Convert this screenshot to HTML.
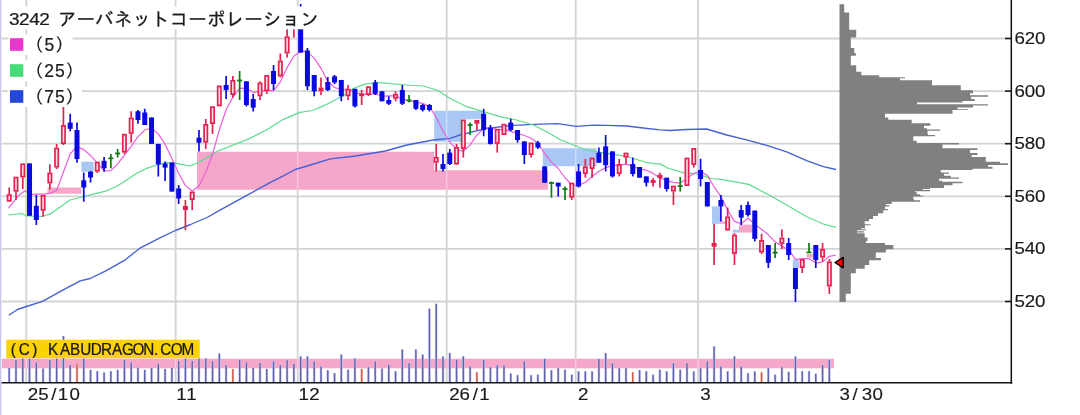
<!DOCTYPE html><html lang="ja"><head><meta charset="utf-8"><title>3242 アーバネットコーポレーション</title>
<style>html,body{margin:0;padding:0;background:#fff;}body{width:1080px;height:415px;overflow:hidden;}svg{display:block;filter:blur(0.5px);}text{font-family:"Liberation Sans","IPAGothic",sans-serif;fill:#1a1a1a;}.mono{font-family:"Liberation Mono","IPAGothic",monospace;}</style></head><body>
<svg width="1080" height="415" viewBox="0 0 1080 415">
<rect width="1080" height="415" fill="#fff"/>
<rect x="0" y="0" width="1.3" height="415" fill="#c6c6f0"/>
<g id="grid" stroke="#d2d3d3" stroke-width="1.8" fill="none">
<line x1="1.6" y1="38.5" x2="1011" y2="38.5"/>
<line x1="1.6" y1="91.1" x2="1011" y2="91.1"/>
<line x1="1.6" y1="143.7" x2="1011" y2="143.7"/>
<line x1="1.6" y1="196.3" x2="1011" y2="196.3"/>
<line x1="1.6" y1="248.9" x2="1011" y2="248.9"/>
<line x1="1.6" y1="301.5" x2="1011" y2="301.5"/>
<line x1="26.3" y1="0" x2="26.3" y2="383"/>
<line x1="175.6" y1="0" x2="175.6" y2="383"/>
<line x1="297.7" y1="0" x2="297.7" y2="383"/>
<line x1="446.7" y1="0" x2="446.7" y2="383"/>
<line x1="575.7" y1="0" x2="575.7" y2="383"/>
<line x1="698" y1="0" x2="698" y2="383"/>
</g>
<g id="bands">
<rect x="47.5" y="187.5" width="33.8" height="6.2" fill="#f5a6c9"/>
<rect x="81.3" y="161.7" width="12.4" height="10" fill="#aac8f6"/>
<rect x="542.8" y="148.2" width="53.8" height="18" fill="#aac8f6"/>
<rect x="712" y="206.4" width="8" height="17.4" fill="#aac8f6"/>
<rect x="720" y="221.4" width="7" height="2.4" fill="#f5a6c9"/>
<rect x="732.7" y="229.8" width="6.3" height="2.8" fill="#aac8f6"/>
<rect x="739" y="224.6" width="13.7" height="8" fill="#f5a6c9"/>
<rect x="792.8" y="259.5" width="6.2" height="8.5" fill="#aac8f6"/>
<rect x="806.6" y="254" width="6.3" height="3.6" fill="#f5a6c9"/>
<path d="M197 151.7H434.2V170.2H548V189.8H197Z" fill="#f5a6c9"/>
<path d="M434.2 110.8H482.6V119.2H461V141.7H434.2Z" fill="#aac8f6"/>
</g>
<rect x="2" y="358.7" width="831.9" height="9.6" fill="#f5a6c9"/>
<g stroke="#ffffff" stroke-opacity="0.38" stroke-width="1.5">
<line x1="297.7" y1="151.7" x2="297.7" y2="189.8"/>
<line x1="446.7" y1="170.2" x2="446.7" y2="189.8"/>
<line x1="446.7" y1="110.8" x2="446.7" y2="141.7"/>
<line x1="575.7" y1="148.2" x2="575.7" y2="166.2"/>
<line x1="26.3" y1="358.7" x2="26.3" y2="368.3"/>
<line x1="175.6" y1="358.7" x2="175.6" y2="368.3"/>
<line x1="297.7" y1="358.7" x2="297.7" y2="368.3"/>
<line x1="446.7" y1="358.7" x2="446.7" y2="368.3"/>
<line x1="575.7" y1="358.7" x2="575.7" y2="368.3"/>
<line x1="698" y1="358.7" x2="698" y2="368.3"/>
</g>
<g id="profile" fill="#808080">
<path d="M839.5 4.2L844.2 4.2L844.2 12.5L849.2 12.5L849.2 29.7L856.2 29.7L856.2 37.5L850.8 37.5L850.8 48L854.2 48L854.2 53L855.8 53L855.8 55.8L850.8 55.8L850.8 65.2L856.2 65.2L856.2 71.7L861.3 71.7L861.3 75.3L879.2 75.3L879.2 77.2L905 77.2L905 78.2L900 78.2L900 80.3L932 80.3L932 85.3L960.8 85.3L960.8 90.3L973 90.3L973 93.3L970 93.3L970 95.3L988.3 95.3L988.3 96.8L971 96.8L971 99L974.7 99L974.7 101L962.5 101L962.5 102.5L917 102.5L917 104.2L988 104.2L988 105.5L973 105.5L973 107.5L957.5 107.5L957.5 109.2L967.8 109.2L967.8 110L952.5 110L952.5 113.7L885 113.7L885 117.5L888.3 117.5L888.3 119.7L911.7 119.7L911.7 123.2L930.3 123.2L930.3 125.8L924 125.8L924 128.3L927 128.3L927 129.6L940.3 129.6L940.3 130.8L927.5 130.8L927.5 134L928 134L928 135L935 135L935 136.3L913.3 136.3L913.3 140.8L916.7 140.8L916.7 143L959 143L959 144.4L942.5 144.4L942.5 148.3L977.5 148.3L977.5 150L970 150L970 153L977.5 153L977.5 155L971.7 155L971.7 157L985.8 157L985.8 161.7L1000 161.7L1000 163.3L1008 163.3L1008 165L988 165L988 166.7L992.5 166.7L992.5 168.7L972.5 168.7L972.5 170L940.8 170L940.8 172.5L949 172.5L949 173.7L944 173.7L944 175.8L950.8 175.8L950.8 177.5L959 177.5L959 178.7L939 178.7L939 180.8L942 180.8L942 181.8L962.5 181.8L962.5 183.3L952.5 183.3L952.5 185.3L944 185.3L944 188L930 188L930 189L923 189L923 190L930 190L930 191.2L915 191.2L915 192L916.7 192L916.7 194.2L920 194.2L920 195.5L923 195.5L923 196.5L913.3 196.5L913.3 199L914 199L914 200.3L920 200.3L920 201.7L891.7 201.7L891.7 204L886 204L886 205.3L889.5 205.3L889.5 206.5L885 206.5L885 209L888 209L888 210.3L883.3 210.3L883.3 213.3L878 213.3L878 216L873 216L873 219L869 219L869 221.3L864.7 221.3L864.7 224.2L870.5 224.2L870.5 225.3L865 225.3L865 228.3L861 228.3L861 229.3L866 229.3L866 230.3L857 230.3L857 231.3L864 231.3L864 232.6L857 232.6L857 233.3L864.7 233.3L864.7 237.5L867.5 237.5L867.5 241L866 241L866 243L885 243L885 245L893.3 245L893.3 249.2L885.8 249.2L885.8 252.5L875.8 252.5L875.8 258L881 258L881 260.3L869.2 260.3L869.2 265L864.7 265L864.7 268.7L855.8 268.7L855.8 273.3L850.8 273.3L850.8 293.7L845.8 293.7L845.8 302L839.5 302Z"/>
</g>
<g id="volume">
<line x1="9.2" y1="367.8" x2="9.2" y2="383" stroke="#ccccff" stroke-width="2.6"/>
<line x1="15.98" y1="359.6" x2="15.98" y2="383" stroke="#ccccff" stroke-width="2.6"/>
<line x1="22.76" y1="358.3" x2="22.76" y2="383" stroke="#ccccff" stroke-width="2.6"/>
<line x1="29.53" y1="358.3" x2="29.53" y2="383" stroke="#ccccff" stroke-width="2.6"/>
<line x1="36.31" y1="362.1" x2="36.31" y2="383" stroke="#ccccff" stroke-width="2.6"/>
<line x1="43.09" y1="368.3" x2="43.09" y2="383" stroke="#ccccff" stroke-width="2.6"/>
<line x1="49.87" y1="359.6" x2="49.87" y2="383" stroke="#ccccff" stroke-width="2.6"/>
<line x1="56.65" y1="358.3" x2="56.65" y2="383" stroke="#ccccff" stroke-width="2.6"/>
<line x1="63.42" y1="335.8" x2="63.42" y2="383" stroke="#ccccff" stroke-width="2.6"/>
<line x1="70.2" y1="364.6" x2="70.2" y2="383" stroke="#ccccff" stroke-width="2.6"/>
<line x1="76.98" y1="363.3" x2="76.98" y2="383" stroke="#ffd2c6" stroke-width="2.6"/>
<line x1="83.76" y1="358.3" x2="83.76" y2="383" stroke="#ccccff" stroke-width="2.6"/>
<line x1="90.54" y1="369.6" x2="90.54" y2="383" stroke="#ccccff" stroke-width="2.6"/>
<line x1="97.31" y1="370.9" x2="97.31" y2="383" stroke="#ccccff" stroke-width="2.6"/>
<line x1="104.09" y1="372.1" x2="104.09" y2="383" stroke="#ccccff" stroke-width="2.6"/>
<line x1="110.87" y1="370.9" x2="110.87" y2="383" stroke="#ccccff" stroke-width="2.6"/>
<line x1="117.65" y1="369.6" x2="117.65" y2="383" stroke="#ccccff" stroke-width="2.6"/>
<line x1="124.43" y1="359.6" x2="124.43" y2="383" stroke="#ccccff" stroke-width="2.6"/>
<line x1="131.2" y1="362.1" x2="131.2" y2="383" stroke="#ccccff" stroke-width="2.6"/>
<line x1="137.98" y1="367.1" x2="137.98" y2="383" stroke="#ccccff" stroke-width="2.6"/>
<line x1="144.76" y1="369.6" x2="144.76" y2="383" stroke="#ccccff" stroke-width="2.6"/>
<line x1="151.54" y1="367.8" x2="151.54" y2="383" stroke="#ccccff" stroke-width="2.6"/>
<line x1="158.32" y1="363.3" x2="158.32" y2="383" stroke="#ccccff" stroke-width="2.6"/>
<line x1="165.09" y1="368.8" x2="165.09" y2="383" stroke="#ccccff" stroke-width="2.6"/>
<line x1="171.87" y1="367.8" x2="171.87" y2="383" stroke="#ccccff" stroke-width="2.6"/>
<line x1="178.65" y1="360.8" x2="178.65" y2="383" stroke="#ccccff" stroke-width="2.6"/>
<line x1="185.43" y1="358.3" x2="185.43" y2="383" stroke="#ccccff" stroke-width="2.6"/>
<line x1="192.21" y1="360.8" x2="192.21" y2="383" stroke="#ccccff" stroke-width="2.6"/>
<line x1="198.98" y1="358.3" x2="198.98" y2="383" stroke="#ccccff" stroke-width="2.6"/>
<line x1="205.76" y1="358.3" x2="205.76" y2="383" stroke="#ccccff" stroke-width="2.6"/>
<line x1="212.54" y1="360.8" x2="212.54" y2="383" stroke="#ccccff" stroke-width="2.6"/>
<line x1="219.32" y1="353.3" x2="219.32" y2="383" stroke="#ccccff" stroke-width="2.6"/>
<line x1="226.1" y1="364.6" x2="226.1" y2="383" stroke="#ccccff" stroke-width="2.6"/>
<line x1="232.87" y1="368.8" x2="232.87" y2="383" stroke="#ffd2c6" stroke-width="2.6"/>
<line x1="239.65" y1="359.6" x2="239.65" y2="383" stroke="#ccccff" stroke-width="2.6"/>
<line x1="246.43" y1="362.1" x2="246.43" y2="383" stroke="#ccccff" stroke-width="2.6"/>
<line x1="253.21" y1="367.8" x2="253.21" y2="383" stroke="#ccccff" stroke-width="2.6"/>
<line x1="259.99" y1="362.7" x2="259.99" y2="383" stroke="#ccccff" stroke-width="2.6"/>
<line x1="266.76" y1="368.7" x2="266.76" y2="383" stroke="#ccccff" stroke-width="2.6"/>
<line x1="273.54" y1="361.1" x2="273.54" y2="383" stroke="#ccccff" stroke-width="2.6"/>
<line x1="280.32" y1="364.9" x2="280.32" y2="383" stroke="#ccccff" stroke-width="2.6"/>
<line x1="287.1" y1="359.9" x2="287.1" y2="383" stroke="#ccccff" stroke-width="2.6"/>
<line x1="293.88" y1="363.6" x2="293.88" y2="383" stroke="#ccccff" stroke-width="2.6"/>
<line x1="300.65" y1="356.1" x2="300.65" y2="383" stroke="#ccccff" stroke-width="2.6"/>
<line x1="307.43" y1="356.1" x2="307.43" y2="383" stroke="#ccccff" stroke-width="2.6"/>
<line x1="314.21" y1="361.1" x2="314.21" y2="383" stroke="#ccccff" stroke-width="2.6"/>
<line x1="320.99" y1="366.1" x2="320.99" y2="383" stroke="#ccccff" stroke-width="2.6"/>
<line x1="327.77" y1="369.9" x2="327.77" y2="383" stroke="#ccccff" stroke-width="2.6"/>
<line x1="334.54" y1="372.9" x2="334.54" y2="383" stroke="#ccccff" stroke-width="2.6"/>
<line x1="341.32" y1="354.3" x2="341.32" y2="383" stroke="#ccccff" stroke-width="2.6"/>
<line x1="348.1" y1="369.4" x2="348.1" y2="383" stroke="#ccccff" stroke-width="2.6"/>
<line x1="354.88" y1="358.1" x2="354.88" y2="383" stroke="#ccccff" stroke-width="2.6"/>
<line x1="361.66" y1="368.6" x2="361.66" y2="383" stroke="#ffd2c6" stroke-width="2.6"/>
<line x1="368.43" y1="366.9" x2="368.43" y2="383" stroke="#ccccff" stroke-width="2.6"/>
<line x1="375.21" y1="361.1" x2="375.21" y2="383" stroke="#ccccff" stroke-width="2.6"/>
<line x1="381.99" y1="368.1" x2="381.99" y2="383" stroke="#ccccff" stroke-width="2.6"/>
<line x1="388.77" y1="364.4" x2="388.77" y2="383" stroke="#ccccff" stroke-width="2.6"/>
<line x1="395.55" y1="371.1" x2="395.55" y2="383" stroke="#ccccff" stroke-width="2.6"/>
<line x1="402.32" y1="349.3" x2="402.32" y2="383" stroke="#ccccff" stroke-width="2.6"/>
<line x1="409.1" y1="362.9" x2="409.1" y2="383" stroke="#ccccff" stroke-width="2.6"/>
<line x1="415.88" y1="349.3" x2="415.88" y2="383" stroke="#ccccff" stroke-width="2.6"/>
<line x1="422.66" y1="354.3" x2="422.66" y2="383" stroke="#ccccff" stroke-width="2.6"/>
<line x1="429.44" y1="308.5" x2="429.44" y2="383" stroke="#ccccff" stroke-width="2.6"/>
<line x1="436.21" y1="303.5" x2="436.21" y2="383" stroke="#ccccff" stroke-width="2.6"/>
<line x1="442.99" y1="356.1" x2="442.99" y2="383" stroke="#ccccff" stroke-width="2.6"/>
<line x1="449.77" y1="352.8" x2="449.77" y2="383" stroke="#ccccff" stroke-width="2.6"/>
<line x1="456.55" y1="359.4" x2="456.55" y2="383" stroke="#ccccff" stroke-width="2.6"/>
<line x1="463.33" y1="356.1" x2="463.33" y2="383" stroke="#ccccff" stroke-width="2.6"/>
<line x1="470.1" y1="366.1" x2="470.1" y2="383" stroke="#ccccff" stroke-width="2.6"/>
<line x1="476.88" y1="371.9" x2="476.88" y2="383" stroke="#ffd2c6" stroke-width="2.6"/>
<line x1="483.66" y1="359.9" x2="483.66" y2="383" stroke="#ccccff" stroke-width="2.6"/>
<line x1="490.44" y1="366.9" x2="490.44" y2="383" stroke="#ccccff" stroke-width="2.6"/>
<line x1="497.22" y1="364.9" x2="497.22" y2="383" stroke="#ccccff" stroke-width="2.6"/>
<line x1="503.99" y1="364.9" x2="503.99" y2="383" stroke="#ccccff" stroke-width="2.6"/>
<line x1="510.77" y1="373.1" x2="510.77" y2="383" stroke="#ccccff" stroke-width="2.6"/>
<line x1="517.55" y1="374.9" x2="517.55" y2="383" stroke="#ccccff" stroke-width="2.6"/>
<line x1="524.33" y1="361.1" x2="524.33" y2="383" stroke="#ccccff" stroke-width="2.6"/>
<line x1="531.11" y1="374.9" x2="531.11" y2="383" stroke="#ccccff" stroke-width="2.6"/>
<line x1="537.88" y1="374.4" x2="537.88" y2="383" stroke="#ccccff" stroke-width="2.6"/>
<line x1="544.66" y1="358.6" x2="544.66" y2="383" stroke="#ccccff" stroke-width="2.6"/>
<line x1="551.44" y1="369.9" x2="551.44" y2="383" stroke="#ccccff" stroke-width="2.6"/>
<line x1="558.22" y1="367.9" x2="558.22" y2="383" stroke="#ccccff" stroke-width="2.6"/>
<line x1="565" y1="369.4" x2="565" y2="383" stroke="#ccccff" stroke-width="2.6"/>
<line x1="571.77" y1="374.4" x2="571.77" y2="383" stroke="#ccccff" stroke-width="2.6"/>
<line x1="578.55" y1="371.1" x2="578.55" y2="383" stroke="#ccccff" stroke-width="2.6"/>
<line x1="585.33" y1="371.1" x2="585.33" y2="383" stroke="#ccccff" stroke-width="2.6"/>
<line x1="592.11" y1="371.1" x2="592.11" y2="383" stroke="#ccccff" stroke-width="2.6"/>
<line x1="598.89" y1="358.6" x2="598.89" y2="383" stroke="#ccccff" stroke-width="2.6"/>
<line x1="605.66" y1="352.8" x2="605.66" y2="383" stroke="#ccccff" stroke-width="2.6"/>
<line x1="612.44" y1="362.9" x2="612.44" y2="383" stroke="#ccccff" stroke-width="2.6"/>
<line x1="619.22" y1="367.9" x2="619.22" y2="383" stroke="#ccccff" stroke-width="2.6"/>
<line x1="626" y1="367.9" x2="626" y2="383" stroke="#ccccff" stroke-width="2.6"/>
<line x1="632.78" y1="371.9" x2="632.78" y2="383" stroke="#ffd2c6" stroke-width="2.6"/>
<line x1="639.55" y1="369.9" x2="639.55" y2="383" stroke="#ccccff" stroke-width="2.6"/>
<line x1="646.33" y1="371.1" x2="646.33" y2="383" stroke="#ccccff" stroke-width="2.6"/>
<line x1="653.11" y1="374.4" x2="653.11" y2="383" stroke="#ccccff" stroke-width="2.6"/>
<line x1="659.89" y1="369.4" x2="659.89" y2="383" stroke="#ccccff" stroke-width="2.6"/>
<line x1="666.67" y1="371.1" x2="666.67" y2="383" stroke="#ccccff" stroke-width="2.6"/>
<line x1="673.44" y1="362.9" x2="673.44" y2="383" stroke="#ccccff" stroke-width="2.6"/>
<line x1="680.22" y1="369.4" x2="680.22" y2="383" stroke="#ccccff" stroke-width="2.6"/>
<line x1="687" y1="362.9" x2="687" y2="383" stroke="#ccccff" stroke-width="2.6"/>
<line x1="693.78" y1="371.1" x2="693.78" y2="383" stroke="#ccccff" stroke-width="2.6"/>
<line x1="700.56" y1="367.9" x2="700.56" y2="383" stroke="#ccccff" stroke-width="2.6"/>
<line x1="707.33" y1="361.1" x2="707.33" y2="383" stroke="#ccccff" stroke-width="2.6"/>
<line x1="714.11" y1="346.1" x2="714.11" y2="383" stroke="#ccccff" stroke-width="2.6"/>
<line x1="720.89" y1="366.1" x2="720.89" y2="383" stroke="#ccccff" stroke-width="2.6"/>
<line x1="727.67" y1="371.1" x2="727.67" y2="383" stroke="#ccccff" stroke-width="2.6"/>
<line x1="734.45" y1="356.1" x2="734.45" y2="383" stroke="#ccccff" stroke-width="2.6"/>
<line x1="741.22" y1="366.1" x2="741.22" y2="383" stroke="#ccccff" stroke-width="2.6"/>
<line x1="748" y1="372.9" x2="748" y2="383" stroke="#ccccff" stroke-width="2.6"/>
<line x1="754.78" y1="371.1" x2="754.78" y2="383" stroke="#ccccff" stroke-width="2.6"/>
<line x1="761.56" y1="371.9" x2="761.56" y2="383" stroke="#ffd2c6" stroke-width="2.6"/>
<line x1="768.34" y1="367.9" x2="768.34" y2="383" stroke="#ccccff" stroke-width="2.6"/>
<line x1="775.11" y1="374.4" x2="775.11" y2="383" stroke="#ccccff" stroke-width="2.6"/>
<line x1="781.89" y1="366.9" x2="781.89" y2="383" stroke="#ccccff" stroke-width="2.6"/>
<line x1="788.67" y1="371.6" x2="788.67" y2="383" stroke="#ccccff" stroke-width="2.6"/>
<line x1="795.45" y1="356.3" x2="795.45" y2="383" stroke="#ccccff" stroke-width="2.6"/>
<line x1="802.23" y1="370.9" x2="802.23" y2="383" stroke="#ccccff" stroke-width="2.6"/>
<line x1="809" y1="370.9" x2="809" y2="383" stroke="#ccccff" stroke-width="2.6"/>
<line x1="815.78" y1="373.4" x2="815.78" y2="383" stroke="#ccccff" stroke-width="2.6"/>
<line x1="822.56" y1="364.6" x2="822.56" y2="383" stroke="#ccccff" stroke-width="2.6"/>
<line x1="829.34" y1="359.6" x2="829.34" y2="383" stroke="#ccccff" stroke-width="2.6"/>
<line x1="9.2" y1="368.1" x2="9.2" y2="383" stroke="#6262a6" stroke-width="1.45"/>
<line x1="15.98" y1="359.9" x2="15.98" y2="383" stroke="#6262a6" stroke-width="1.45"/>
<line x1="22.76" y1="358.6" x2="22.76" y2="383" stroke="#6262a6" stroke-width="1.45"/>
<line x1="29.53" y1="358.6" x2="29.53" y2="383" stroke="#6262a6" stroke-width="1.45"/>
<line x1="36.31" y1="362.4" x2="36.31" y2="383" stroke="#6262a6" stroke-width="1.45"/>
<line x1="43.09" y1="368.6" x2="43.09" y2="383" stroke="#6262a6" stroke-width="1.45"/>
<line x1="49.87" y1="359.9" x2="49.87" y2="383" stroke="#6262a6" stroke-width="1.45"/>
<line x1="56.65" y1="358.6" x2="56.65" y2="383" stroke="#6262a6" stroke-width="1.45"/>
<line x1="63.42" y1="336.1" x2="63.42" y2="383" stroke="#6262a6" stroke-width="1.45"/>
<line x1="70.2" y1="364.9" x2="70.2" y2="383" stroke="#6262a6" stroke-width="1.45"/>
<line x1="76.98" y1="363.6" x2="76.98" y2="383" stroke="#c8584c" stroke-width="1.45"/>
<line x1="83.76" y1="358.6" x2="83.76" y2="383" stroke="#6262a6" stroke-width="1.45"/>
<line x1="90.54" y1="369.9" x2="90.54" y2="383" stroke="#6262a6" stroke-width="1.45"/>
<line x1="97.31" y1="371.2" x2="97.31" y2="383" stroke="#6262a6" stroke-width="1.45"/>
<line x1="104.09" y1="372.4" x2="104.09" y2="383" stroke="#6262a6" stroke-width="1.45"/>
<line x1="110.87" y1="371.2" x2="110.87" y2="383" stroke="#6262a6" stroke-width="1.45"/>
<line x1="117.65" y1="369.9" x2="117.65" y2="383" stroke="#6262a6" stroke-width="1.45"/>
<line x1="124.43" y1="359.9" x2="124.43" y2="383" stroke="#6262a6" stroke-width="1.45"/>
<line x1="131.2" y1="362.4" x2="131.2" y2="383" stroke="#6262a6" stroke-width="1.45"/>
<line x1="137.98" y1="367.4" x2="137.98" y2="383" stroke="#6262a6" stroke-width="1.45"/>
<line x1="144.76" y1="369.9" x2="144.76" y2="383" stroke="#6262a6" stroke-width="1.45"/>
<line x1="151.54" y1="368.1" x2="151.54" y2="383" stroke="#6262a6" stroke-width="1.45"/>
<line x1="158.32" y1="363.6" x2="158.32" y2="383" stroke="#6262a6" stroke-width="1.45"/>
<line x1="165.09" y1="369.1" x2="165.09" y2="383" stroke="#6262a6" stroke-width="1.45"/>
<line x1="171.87" y1="368.1" x2="171.87" y2="383" stroke="#6262a6" stroke-width="1.45"/>
<line x1="178.65" y1="361.1" x2="178.65" y2="383" stroke="#6262a6" stroke-width="1.45"/>
<line x1="185.43" y1="358.6" x2="185.43" y2="383" stroke="#6262a6" stroke-width="1.45"/>
<line x1="192.21" y1="361.1" x2="192.21" y2="383" stroke="#6262a6" stroke-width="1.45"/>
<line x1="198.98" y1="358.6" x2="198.98" y2="383" stroke="#6262a6" stroke-width="1.45"/>
<line x1="205.76" y1="358.6" x2="205.76" y2="383" stroke="#6262a6" stroke-width="1.45"/>
<line x1="212.54" y1="361.1" x2="212.54" y2="383" stroke="#6262a6" stroke-width="1.45"/>
<line x1="219.32" y1="353.6" x2="219.32" y2="383" stroke="#6262a6" stroke-width="1.45"/>
<line x1="226.1" y1="364.9" x2="226.1" y2="383" stroke="#6262a6" stroke-width="1.45"/>
<line x1="232.87" y1="369.1" x2="232.87" y2="383" stroke="#c8584c" stroke-width="1.45"/>
<line x1="239.65" y1="359.9" x2="239.65" y2="383" stroke="#6262a6" stroke-width="1.45"/>
<line x1="246.43" y1="362.4" x2="246.43" y2="383" stroke="#6262a6" stroke-width="1.45"/>
<line x1="253.21" y1="368.1" x2="253.21" y2="383" stroke="#6262a6" stroke-width="1.45"/>
<line x1="259.99" y1="363" x2="259.99" y2="383" stroke="#6262a6" stroke-width="1.45"/>
<line x1="266.76" y1="369" x2="266.76" y2="383" stroke="#6262a6" stroke-width="1.45"/>
<line x1="273.54" y1="361.4" x2="273.54" y2="383" stroke="#6262a6" stroke-width="1.45"/>
<line x1="280.32" y1="365.2" x2="280.32" y2="383" stroke="#6262a6" stroke-width="1.45"/>
<line x1="287.1" y1="360.2" x2="287.1" y2="383" stroke="#6262a6" stroke-width="1.45"/>
<line x1="293.88" y1="363.9" x2="293.88" y2="383" stroke="#6262a6" stroke-width="1.45"/>
<line x1="300.65" y1="356.4" x2="300.65" y2="383" stroke="#6262a6" stroke-width="1.45"/>
<line x1="307.43" y1="356.4" x2="307.43" y2="383" stroke="#6262a6" stroke-width="1.45"/>
<line x1="314.21" y1="361.4" x2="314.21" y2="383" stroke="#6262a6" stroke-width="1.45"/>
<line x1="320.99" y1="366.4" x2="320.99" y2="383" stroke="#6262a6" stroke-width="1.45"/>
<line x1="327.77" y1="370.2" x2="327.77" y2="383" stroke="#6262a6" stroke-width="1.45"/>
<line x1="334.54" y1="373.2" x2="334.54" y2="383" stroke="#6262a6" stroke-width="1.45"/>
<line x1="341.32" y1="354.6" x2="341.32" y2="383" stroke="#6262a6" stroke-width="1.45"/>
<line x1="348.1" y1="369.7" x2="348.1" y2="383" stroke="#6262a6" stroke-width="1.45"/>
<line x1="354.88" y1="358.4" x2="354.88" y2="383" stroke="#6262a6" stroke-width="1.45"/>
<line x1="361.66" y1="368.9" x2="361.66" y2="383" stroke="#c8584c" stroke-width="1.45"/>
<line x1="368.43" y1="367.2" x2="368.43" y2="383" stroke="#6262a6" stroke-width="1.45"/>
<line x1="375.21" y1="361.4" x2="375.21" y2="383" stroke="#6262a6" stroke-width="1.45"/>
<line x1="381.99" y1="368.4" x2="381.99" y2="383" stroke="#6262a6" stroke-width="1.45"/>
<line x1="388.77" y1="364.7" x2="388.77" y2="383" stroke="#6262a6" stroke-width="1.45"/>
<line x1="395.55" y1="371.4" x2="395.55" y2="383" stroke="#6262a6" stroke-width="1.45"/>
<line x1="402.32" y1="349.6" x2="402.32" y2="383" stroke="#6262a6" stroke-width="1.45"/>
<line x1="409.1" y1="363.2" x2="409.1" y2="383" stroke="#6262a6" stroke-width="1.45"/>
<line x1="415.88" y1="349.6" x2="415.88" y2="383" stroke="#6262a6" stroke-width="1.45"/>
<line x1="422.66" y1="354.6" x2="422.66" y2="383" stroke="#6262a6" stroke-width="1.45"/>
<line x1="429.44" y1="308.8" x2="429.44" y2="383" stroke="#6262a6" stroke-width="1.45"/>
<line x1="436.21" y1="303.8" x2="436.21" y2="383" stroke="#6262a6" stroke-width="1.45"/>
<line x1="442.99" y1="356.4" x2="442.99" y2="383" stroke="#6262a6" stroke-width="1.45"/>
<line x1="449.77" y1="353.1" x2="449.77" y2="383" stroke="#6262a6" stroke-width="1.45"/>
<line x1="456.55" y1="359.7" x2="456.55" y2="383" stroke="#6262a6" stroke-width="1.45"/>
<line x1="463.33" y1="356.4" x2="463.33" y2="383" stroke="#6262a6" stroke-width="1.45"/>
<line x1="470.1" y1="366.4" x2="470.1" y2="383" stroke="#6262a6" stroke-width="1.45"/>
<line x1="476.88" y1="372.2" x2="476.88" y2="383" stroke="#c8584c" stroke-width="1.45"/>
<line x1="483.66" y1="360.2" x2="483.66" y2="383" stroke="#6262a6" stroke-width="1.45"/>
<line x1="490.44" y1="367.2" x2="490.44" y2="383" stroke="#6262a6" stroke-width="1.45"/>
<line x1="497.22" y1="365.2" x2="497.22" y2="383" stroke="#6262a6" stroke-width="1.45"/>
<line x1="503.99" y1="365.2" x2="503.99" y2="383" stroke="#6262a6" stroke-width="1.45"/>
<line x1="510.77" y1="373.4" x2="510.77" y2="383" stroke="#6262a6" stroke-width="1.45"/>
<line x1="517.55" y1="375.2" x2="517.55" y2="383" stroke="#6262a6" stroke-width="1.45"/>
<line x1="524.33" y1="361.4" x2="524.33" y2="383" stroke="#6262a6" stroke-width="1.45"/>
<line x1="531.11" y1="375.2" x2="531.11" y2="383" stroke="#6262a6" stroke-width="1.45"/>
<line x1="537.88" y1="374.7" x2="537.88" y2="383" stroke="#6262a6" stroke-width="1.45"/>
<line x1="544.66" y1="358.9" x2="544.66" y2="383" stroke="#6262a6" stroke-width="1.45"/>
<line x1="551.44" y1="370.2" x2="551.44" y2="383" stroke="#6262a6" stroke-width="1.45"/>
<line x1="558.22" y1="368.2" x2="558.22" y2="383" stroke="#6262a6" stroke-width="1.45"/>
<line x1="565" y1="369.7" x2="565" y2="383" stroke="#6262a6" stroke-width="1.45"/>
<line x1="571.77" y1="374.7" x2="571.77" y2="383" stroke="#6262a6" stroke-width="1.45"/>
<line x1="578.55" y1="371.4" x2="578.55" y2="383" stroke="#6262a6" stroke-width="1.45"/>
<line x1="585.33" y1="371.4" x2="585.33" y2="383" stroke="#6262a6" stroke-width="1.45"/>
<line x1="592.11" y1="371.4" x2="592.11" y2="383" stroke="#6262a6" stroke-width="1.45"/>
<line x1="598.89" y1="358.9" x2="598.89" y2="383" stroke="#6262a6" stroke-width="1.45"/>
<line x1="605.66" y1="353.1" x2="605.66" y2="383" stroke="#6262a6" stroke-width="1.45"/>
<line x1="612.44" y1="363.2" x2="612.44" y2="383" stroke="#6262a6" stroke-width="1.45"/>
<line x1="619.22" y1="368.2" x2="619.22" y2="383" stroke="#6262a6" stroke-width="1.45"/>
<line x1="626" y1="368.2" x2="626" y2="383" stroke="#6262a6" stroke-width="1.45"/>
<line x1="632.78" y1="372.2" x2="632.78" y2="383" stroke="#c8584c" stroke-width="1.45"/>
<line x1="639.55" y1="370.2" x2="639.55" y2="383" stroke="#6262a6" stroke-width="1.45"/>
<line x1="646.33" y1="371.4" x2="646.33" y2="383" stroke="#6262a6" stroke-width="1.45"/>
<line x1="653.11" y1="374.7" x2="653.11" y2="383" stroke="#6262a6" stroke-width="1.45"/>
<line x1="659.89" y1="369.7" x2="659.89" y2="383" stroke="#6262a6" stroke-width="1.45"/>
<line x1="666.67" y1="371.4" x2="666.67" y2="383" stroke="#6262a6" stroke-width="1.45"/>
<line x1="673.44" y1="363.2" x2="673.44" y2="383" stroke="#6262a6" stroke-width="1.45"/>
<line x1="680.22" y1="369.7" x2="680.22" y2="383" stroke="#6262a6" stroke-width="1.45"/>
<line x1="687" y1="363.2" x2="687" y2="383" stroke="#6262a6" stroke-width="1.45"/>
<line x1="693.78" y1="371.4" x2="693.78" y2="383" stroke="#6262a6" stroke-width="1.45"/>
<line x1="700.56" y1="368.2" x2="700.56" y2="383" stroke="#6262a6" stroke-width="1.45"/>
<line x1="707.33" y1="361.4" x2="707.33" y2="383" stroke="#6262a6" stroke-width="1.45"/>
<line x1="714.11" y1="346.4" x2="714.11" y2="383" stroke="#6262a6" stroke-width="1.45"/>
<line x1="720.89" y1="366.4" x2="720.89" y2="383" stroke="#6262a6" stroke-width="1.45"/>
<line x1="727.67" y1="371.4" x2="727.67" y2="383" stroke="#6262a6" stroke-width="1.45"/>
<line x1="734.45" y1="356.4" x2="734.45" y2="383" stroke="#6262a6" stroke-width="1.45"/>
<line x1="741.22" y1="366.4" x2="741.22" y2="383" stroke="#6262a6" stroke-width="1.45"/>
<line x1="748" y1="373.2" x2="748" y2="383" stroke="#6262a6" stroke-width="1.45"/>
<line x1="754.78" y1="371.4" x2="754.78" y2="383" stroke="#6262a6" stroke-width="1.45"/>
<line x1="761.56" y1="372.2" x2="761.56" y2="383" stroke="#c8584c" stroke-width="1.45"/>
<line x1="768.34" y1="368.2" x2="768.34" y2="383" stroke="#6262a6" stroke-width="1.45"/>
<line x1="775.11" y1="374.7" x2="775.11" y2="383" stroke="#6262a6" stroke-width="1.45"/>
<line x1="781.89" y1="367.2" x2="781.89" y2="383" stroke="#6262a6" stroke-width="1.45"/>
<line x1="788.67" y1="371.9" x2="788.67" y2="383" stroke="#6262a6" stroke-width="1.45"/>
<line x1="795.45" y1="356.6" x2="795.45" y2="383" stroke="#6262a6" stroke-width="1.45"/>
<line x1="802.23" y1="371.2" x2="802.23" y2="383" stroke="#6262a6" stroke-width="1.45"/>
<line x1="809" y1="371.2" x2="809" y2="383" stroke="#6262a6" stroke-width="1.45"/>
<line x1="815.78" y1="373.7" x2="815.78" y2="383" stroke="#6262a6" stroke-width="1.45"/>
<line x1="822.56" y1="364.9" x2="822.56" y2="383" stroke="#6262a6" stroke-width="1.45"/>
<line x1="829.34" y1="359.9" x2="829.34" y2="383" stroke="#6262a6" stroke-width="1.45"/>
</g>
<polyline fill="none" stroke="#4660d6" stroke-width="1.35" stroke-linejoin="round" points="8.8,315.3 17.5,309.5 26.3,306.5 42.6,301.3 62.7,290.2 80.2,280.9 90.2,278.5 105.3,271.2 125.3,259.8 140.4,247.8 160.4,237.6 175.4,230.5 190.5,224.5 207,217.5 220,210.2 245,196.4 270,182.6 283.3,175.8 295.3,169.5 310.4,165 330.4,158.8 355.5,156 385.5,151 406.7,145 433.3,140 450,138.3 460,135 486.7,128.3 513.3,125.3 540,124.1 558,123.6 576,126.3 593.3,125.2 606.7,125.3 626.7,126 643.3,128 660,129.8 670,130.5 686.7,129.5 706.7,129 726.7,135 746.7,139.8 766.7,145.4 786.7,151.8 806.7,160.7 823.3,166.7 836,169.5"/>
<polyline fill="none" stroke="#5edb8e" stroke-width="1.25" stroke-linejoin="round" points="8.3,215 21.7,213.5 26.7,216 41.7,216.3 50,214.2 58.3,208.3 70,200 80,197.5 93.3,194.2 106.7,190.8 116.7,186.2 126.7,180 136.7,173.3 146.7,168.3 156.7,165 166.7,162.6 173.3,162.6 180,164.2 190,166 200,161.7 216.7,151.7 233.3,145 250,138.3 266.7,129.8 283.3,119.3 300,112.3 312.5,110.5 325,105.2 337.5,98.8 343.3,95.7 353.3,88.5 363.3,84.6 376.7,82.3 390,83.7 406.7,85 423.3,86 436.7,90 450,98.3 466.7,106.7 483.3,111.7 500,116.7 516.7,120 533.3,125 546.7,131.7 560,139.5 573.3,145 586.7,150 600,152.4 616.7,154.8 626.7,156.5 646.7,162.5 655,163.7 660,163.9 667.5,168 683.75,172.8 696.25,173.8 711.25,178.5 721.25,179.4 748.75,184.4 761.25,191 766.7,193.8 786.7,205 806.7,216.7 823.3,224 836,227.3"/>
<polyline fill="none" stroke="#e95fdc" stroke-width="1.2" stroke-linejoin="round" points="8.3,208.3 18.3,195.8 25,190.8 31.7,194.7 36.31,194.02 43.09,194.18 49.87,193.34 56.65,190.18 63.42,172.02 70.2,153.78 76.98,146.58 83.76,149.58 90.54,155.56 97.31,162.9 104.09,170.8 110.87,170.66 117.65,163.86 124.43,155.12 131.2,146.28 137.98,136.62 144.76,129.96 151.54,128.04 158.32,134.18 165.09,144.2 171.87,158.52 178.65,173.22 185.43,185.64 192.21,191.04 198.98,186.06 205.76,172.54 212.54,154.1 219.32,130 226.1,109.7 232.87,97.16 239.65,88.46 246.43,88.2 253.21,92.62 259.99,91.12 266.76,90.12 273.54,90.82 280.32,81.92 287.1,67.66 293.88,55.96 300.65,51.46 307.43,51.92 314.21,58.08 320.99,68.32 327.77,81.52 334.54,87.52 341.32,89.52 348.1,89.02 354.88,92.78 361.66,93.54 368.43,94.3 375.21,93.8 381.99,96.3 388.77,95.8 395.55,95.8 402.32,99.3 409.1,100.64 415.88,102.14 422.66,103.38 429.44,106.62 436.21,117.26 442.99,130.96 449.77,142 456.55,149.4 463.33,151.3 470.1,144.9 476.88,135.1 483.66,128.3 490.44,127.68 497.22,129.54 503.99,129.3 510.77,131.3 517.55,133.3 524.33,135.52 531.11,138.28 537.88,143.04 544.66,153.58 551.44,162.18 558.22,168.48 565,177.76 571.77,184.78 578.55,185.54 585.33,182.22 592.11,176.44 598.89,171.18 605.66,167.68 612.44,165.66 619.22,165.18 626,164.18 632.78,166.44 639.55,168.94 646.33,170.2 653.11,173.4 659.89,177.82 666.67,180.82 673.44,182.42 680.22,183.08 687,178.6 693.78,173.26 700.56,171.26 707.33,175.4 714.11,186.8 720.89,196.56 727.67,210.24 734.45,221.36 741.22,223.6 748,218 754.78,224.48 761.56,229.2 768.34,234.82 775.11,241.82 781.89,246.34 788.67,249.58 795.45,259.38 802.23,258.64 809,258.6 815.78,263.08 822.56,261.86 829.34,256.34 836,255"/>
<g id="candles">
<line x1="9.2" y1="187.5" x2="9.2" y2="194.2" stroke="#e3204f" stroke-width="1.7"/>
<line x1="9.2" y1="201.7" x2="9.2" y2="201.7" stroke="#e3204f" stroke-width="1.7"/>
<rect x="7.55" y="195.05" width="3.3" height="5.8" fill="#ffdde8" stroke="#e3204f" stroke-width="1.7"/>
<line x1="15.98" y1="176.7" x2="15.98" y2="176.7" stroke="#e3204f" stroke-width="1.7"/>
<line x1="15.98" y1="191.7" x2="15.98" y2="200" stroke="#e3204f" stroke-width="1.7"/>
<rect x="14.33" y="177.55" width="3.3" height="13.3" fill="#ffdde8" stroke="#e3204f" stroke-width="1.7"/>
<line x1="22.76" y1="163.4" x2="22.76" y2="163.4" stroke="#e3204f" stroke-width="1.7"/>
<line x1="22.76" y1="177.5" x2="22.76" y2="189" stroke="#e3204f" stroke-width="1.7"/>
<rect x="21.11" y="164.25" width="3.3" height="12.4" fill="#ffdde8" stroke="#e3204f" stroke-width="1.7"/>
<line x1="29.53" y1="163.4" x2="29.53" y2="215.8" stroke="#0a0ae0" stroke-width="1.7"/>
<rect x="27.03" y="163.4" width="5" height="52.4" fill="#0a0ae0"/>
<line x1="36.31" y1="195" x2="36.31" y2="225" stroke="#0a0ae0" stroke-width="1.7"/>
<rect x="33.81" y="205.8" width="5" height="14.2" fill="#0a0ae0"/>
<line x1="43.09" y1="195" x2="43.09" y2="195" stroke="#e3204f" stroke-width="1.7"/>
<line x1="43.09" y1="210.8" x2="43.09" y2="216.7" stroke="#e3204f" stroke-width="1.7"/>
<rect x="41.44" y="195.85" width="3.3" height="14.1" fill="#ffdde8" stroke="#e3204f" stroke-width="1.7"/>
<line x1="49.87" y1="164.2" x2="49.87" y2="172.5" stroke="#e3204f" stroke-width="1.7"/>
<line x1="49.87" y1="183.5" x2="49.87" y2="189.5" stroke="#e3204f" stroke-width="1.7"/>
<rect x="48.22" y="173.35" width="3.3" height="9.3" fill="#ffdde8" stroke="#e3204f" stroke-width="1.7"/>
<line x1="56.65" y1="144" x2="56.65" y2="147.6" stroke="#e3204f" stroke-width="1.7"/>
<line x1="56.65" y1="167.6" x2="56.65" y2="169" stroke="#e3204f" stroke-width="1.7"/>
<rect x="55" y="148.45" width="3.3" height="18.3" fill="#ffdde8" stroke="#e3204f" stroke-width="1.7"/>
<line x1="63.42" y1="106.3" x2="63.42" y2="125" stroke="#e3204f" stroke-width="1.7"/>
<line x1="63.42" y1="144" x2="63.42" y2="145" stroke="#e3204f" stroke-width="1.7"/>
<rect x="61.77" y="125.85" width="3.3" height="17.3" fill="#ffdde8" stroke="#e3204f" stroke-width="1.7"/>
<line x1="70.2" y1="113.8" x2="70.2" y2="131.3" stroke="#0a0ae0" stroke-width="1.7"/>
<rect x="67.7" y="122.6" width="5" height="6.2" fill="#0a0ae0"/>
<line x1="76.98" y1="122.6" x2="76.98" y2="162.7" stroke="#0a0ae0" stroke-width="1.7"/>
<rect x="74.48" y="130" width="5" height="29" fill="#0a0ae0"/>
<line x1="83.76" y1="172.5" x2="83.76" y2="201.7" stroke="#0a0ae0" stroke-width="1.7"/>
<rect x="81.26" y="180.3" width="5" height="7.2" fill="#0a0ae0"/>
<line x1="90.54" y1="171" x2="90.54" y2="182.5" stroke="#0a0ae0" stroke-width="1.7"/>
<rect x="88.04" y="171.7" width="5" height="5.8" fill="#0a0ae0"/>
<line x1="97.31" y1="161.7" x2="97.31" y2="161.7" stroke="#e3204f" stroke-width="1.7"/>
<line x1="97.31" y1="171.7" x2="97.31" y2="173" stroke="#e3204f" stroke-width="1.7"/>
<rect x="95.66" y="162.55" width="3.3" height="8.3" fill="#ffdde8" stroke="#e3204f" stroke-width="1.7"/>
<line x1="104.09" y1="157" x2="104.09" y2="171.7" stroke="#0a0ae0" stroke-width="1.7"/>
<rect x="101.59" y="160.8" width="5" height="7.5" fill="#0a0ae0"/>
<line x1="110.87" y1="154" x2="110.87" y2="168.3" stroke="#107a10" stroke-width="1.7"/>
<line x1="108.37" y1="158.3" x2="113.37" y2="158.3" stroke="#107a10" stroke-width="1.8"/>
<line x1="117.65" y1="149" x2="117.65" y2="157.6" stroke="#107a10" stroke-width="1.7"/>
<line x1="115.15" y1="153.5" x2="120.15" y2="153.5" stroke="#107a10" stroke-width="1.8"/>
<line x1="124.43" y1="133.8" x2="124.43" y2="133.8" stroke="#e3204f" stroke-width="1.7"/>
<line x1="124.43" y1="152.6" x2="124.43" y2="154" stroke="#e3204f" stroke-width="1.7"/>
<rect x="122.78" y="134.65" width="3.3" height="17.1" fill="#ffdde8" stroke="#e3204f" stroke-width="1.7"/>
<line x1="131.2" y1="111.3" x2="131.2" y2="117.5" stroke="#e3204f" stroke-width="1.7"/>
<line x1="131.2" y1="133.8" x2="131.2" y2="142.6" stroke="#e3204f" stroke-width="1.7"/>
<rect x="129.55" y="118.35" width="3.3" height="14.6" fill="#ffdde8" stroke="#e3204f" stroke-width="1.7"/>
<line x1="137.98" y1="110" x2="137.98" y2="123.8" stroke="#0a0ae0" stroke-width="1.7"/>
<rect x="135.48" y="111.3" width="5" height="8.7" fill="#0a0ae0"/>
<line x1="144.76" y1="108.8" x2="144.76" y2="125" stroke="#0a0ae0" stroke-width="1.7"/>
<rect x="142.26" y="112.5" width="5" height="12.5" fill="#0a0ae0"/>
<line x1="151.54" y1="117.5" x2="151.54" y2="143.9" stroke="#0a0ae0" stroke-width="1.7"/>
<rect x="149.04" y="117.5" width="5" height="26.4" fill="#0a0ae0"/>
<line x1="158.32" y1="143.9" x2="158.32" y2="176.5" stroke="#0a0ae0" stroke-width="1.7"/>
<rect x="155.82" y="143.9" width="5" height="20.6" fill="#0a0ae0"/>
<line x1="165.09" y1="161.5" x2="165.09" y2="181" stroke="#0a0ae0" stroke-width="1.7"/>
<rect x="162.59" y="163.5" width="5" height="4.1" fill="#0a0ae0"/>
<line x1="171.87" y1="162.6" x2="171.87" y2="191.6" stroke="#0a0ae0" stroke-width="1.7"/>
<rect x="169.37" y="162.6" width="5" height="29" fill="#0a0ae0"/>
<line x1="178.65" y1="185" x2="178.65" y2="204" stroke="#0a0ae0" stroke-width="1.7"/>
<rect x="176.15" y="188.5" width="5" height="10" fill="#0a0ae0"/>
<line x1="185.43" y1="200" x2="185.43" y2="206" stroke="#e3204f" stroke-width="1.7"/>
<line x1="185.43" y1="210" x2="185.43" y2="230" stroke="#e3204f" stroke-width="1.7"/>
<rect x="182.93" y="206" width="5" height="4" fill="#e3204f"/>
<line x1="192.21" y1="191.5" x2="192.21" y2="191.5" stroke="#e3204f" stroke-width="1.7"/>
<line x1="192.21" y1="200" x2="192.21" y2="210" stroke="#e3204f" stroke-width="1.7"/>
<rect x="190.56" y="192.35" width="3.3" height="6.8" fill="#ffdde8" stroke="#e3204f" stroke-width="1.7"/>
<line x1="198.98" y1="130" x2="198.98" y2="151.5" stroke="#0a0ae0" stroke-width="1.7"/>
<rect x="196.48" y="137.7" width="5" height="5" fill="#0a0ae0"/>
<line x1="205.76" y1="119" x2="205.76" y2="124" stroke="#e3204f" stroke-width="1.7"/>
<line x1="205.76" y1="142.7" x2="205.76" y2="149" stroke="#e3204f" stroke-width="1.7"/>
<rect x="204.11" y="124.85" width="3.3" height="17" fill="#ffdde8" stroke="#e3204f" stroke-width="1.7"/>
<line x1="212.54" y1="106.3" x2="212.54" y2="106.3" stroke="#e3204f" stroke-width="1.7"/>
<line x1="212.54" y1="124" x2="212.54" y2="134" stroke="#e3204f" stroke-width="1.7"/>
<rect x="210.89" y="107.15" width="3.3" height="16" fill="#ffdde8" stroke="#e3204f" stroke-width="1.7"/>
<line x1="219.32" y1="85.5" x2="219.32" y2="85.5" stroke="#e3204f" stroke-width="1.7"/>
<line x1="219.32" y1="106.3" x2="219.32" y2="106.3" stroke="#e3204f" stroke-width="1.7"/>
<rect x="217.67" y="86.35" width="3.3" height="19.1" fill="#ffdde8" stroke="#e3204f" stroke-width="1.7"/>
<line x1="226.1" y1="76" x2="226.1" y2="99" stroke="#0a0ae0" stroke-width="1.7"/>
<rect x="223.6" y="85" width="5" height="5" fill="#0a0ae0"/>
<line x1="232.87" y1="76" x2="232.87" y2="80" stroke="#e3204f" stroke-width="1.7"/>
<line x1="232.87" y1="95" x2="232.87" y2="97.6" stroke="#e3204f" stroke-width="1.7"/>
<rect x="231.22" y="80.85" width="3.3" height="13.3" fill="#ffdde8" stroke="#e3204f" stroke-width="1.7"/>
<line x1="239.65" y1="71" x2="239.65" y2="100" stroke="#107a10" stroke-width="1.7"/>
<line x1="237.15" y1="80.5" x2="242.15" y2="80.5" stroke="#107a10" stroke-width="1.8"/>
<line x1="246.43" y1="81.3" x2="246.43" y2="106.5" stroke="#0a0ae0" stroke-width="1.7"/>
<rect x="243.93" y="81.3" width="5" height="23.7" fill="#0a0ae0"/>
<line x1="253.21" y1="94" x2="253.21" y2="111.5" stroke="#0a0ae0" stroke-width="1.7"/>
<rect x="250.71" y="99" width="5" height="8.6" fill="#0a0ae0"/>
<line x1="259.99" y1="81.3" x2="259.99" y2="82.5" stroke="#e3204f" stroke-width="1.7"/>
<line x1="259.99" y1="96.3" x2="259.99" y2="100" stroke="#e3204f" stroke-width="1.7"/>
<rect x="258.34" y="83.35" width="3.3" height="12.1" fill="#ffdde8" stroke="#e3204f" stroke-width="1.7"/>
<line x1="266.76" y1="75" x2="266.76" y2="75" stroke="#e3204f" stroke-width="1.7"/>
<line x1="266.76" y1="91.3" x2="266.76" y2="94" stroke="#e3204f" stroke-width="1.7"/>
<rect x="265.11" y="75.85" width="3.3" height="14.6" fill="#ffdde8" stroke="#e3204f" stroke-width="1.7"/>
<line x1="273.54" y1="65" x2="273.54" y2="90" stroke="#0a0ae0" stroke-width="1.7"/>
<rect x="271.04" y="71" width="5" height="13" fill="#0a0ae0"/>
<line x1="280.32" y1="53.5" x2="280.32" y2="60.5" stroke="#e3204f" stroke-width="1.7"/>
<line x1="280.32" y1="76.4" x2="280.32" y2="77.5" stroke="#e3204f" stroke-width="1.7"/>
<rect x="278.67" y="61.35" width="3.3" height="14.2" fill="#ffdde8" stroke="#e3204f" stroke-width="1.7"/>
<line x1="287.1" y1="27" x2="287.1" y2="36.3" stroke="#e3204f" stroke-width="1.7"/>
<line x1="287.1" y1="53.5" x2="287.1" y2="57.5" stroke="#e3204f" stroke-width="1.7"/>
<rect x="285.45" y="37.15" width="3.3" height="15.5" fill="#ffdde8" stroke="#e3204f" stroke-width="1.7"/>
<line x1="293.88" y1="12" x2="293.88" y2="24" stroke="#e3204f" stroke-width="1.7"/>
<line x1="293.88" y1="28.5" x2="293.88" y2="37.5" stroke="#e3204f" stroke-width="1.7"/>
<rect x="292.23" y="24.85" width="3.3" height="2.8" fill="#ffdde8" stroke="#e3204f" stroke-width="1.7"/>
<line x1="300.65" y1="4" x2="300.65" y2="52.5" stroke="#0a0ae0" stroke-width="1.7"/>
<rect x="298.15" y="14" width="5" height="38.5" fill="#0a0ae0"/>
<line x1="307.43" y1="48" x2="307.43" y2="90" stroke="#0a0ae0" stroke-width="1.7"/>
<rect x="304.93" y="50.5" width="5" height="35.8" fill="#0a0ae0"/>
<line x1="314.21" y1="75" x2="314.21" y2="96.3" stroke="#0a0ae0" stroke-width="1.7"/>
<rect x="311.71" y="75" width="5" height="16.3" fill="#0a0ae0"/>
<line x1="320.99" y1="77.5" x2="320.99" y2="87.5" stroke="#e3204f" stroke-width="1.7"/>
<line x1="320.99" y1="91.3" x2="320.99" y2="95" stroke="#e3204f" stroke-width="1.7"/>
<rect x="318.49" y="87.5" width="5" height="3.8" fill="#e3204f"/>
<line x1="327.77" y1="77" x2="327.77" y2="91" stroke="#0a0ae0" stroke-width="1.7"/>
<rect x="325.27" y="82" width="5" height="8" fill="#0a0ae0"/>
<line x1="334.54" y1="75" x2="334.54" y2="84" stroke="#0a0ae0" stroke-width="1.7"/>
<rect x="332.04" y="76.3" width="5" height="6.2" fill="#0a0ae0"/>
<line x1="341.32" y1="80" x2="341.32" y2="101.3" stroke="#0a0ae0" stroke-width="1.7"/>
<rect x="338.82" y="80" width="5" height="16.3" fill="#0a0ae0"/>
<line x1="348.1" y1="85" x2="348.1" y2="88.8" stroke="#e3204f" stroke-width="1.7"/>
<line x1="348.1" y1="96.3" x2="348.1" y2="100" stroke="#e3204f" stroke-width="1.7"/>
<rect x="346.45" y="89.65" width="3.3" height="5.8" fill="#ffdde8" stroke="#e3204f" stroke-width="1.7"/>
<line x1="354.88" y1="88.8" x2="354.88" y2="107.5" stroke="#0a0ae0" stroke-width="1.7"/>
<rect x="352.38" y="88.8" width="5" height="17.5" fill="#0a0ae0"/>
<line x1="361.66" y1="90" x2="361.66" y2="93.8" stroke="#e3204f" stroke-width="1.7"/>
<line x1="361.66" y1="96.3" x2="361.66" y2="105" stroke="#e3204f" stroke-width="1.7"/>
<rect x="359.16" y="93.8" width="5" height="2.5" fill="#e3204f"/>
<line x1="368.43" y1="86" x2="368.43" y2="86.3" stroke="#e3204f" stroke-width="1.7"/>
<line x1="368.43" y1="95" x2="368.43" y2="96" stroke="#e3204f" stroke-width="1.7"/>
<rect x="366.78" y="87.15" width="3.3" height="7" fill="#ffdde8" stroke="#e3204f" stroke-width="1.7"/>
<line x1="375.21" y1="80" x2="375.21" y2="95" stroke="#0a0ae0" stroke-width="1.7"/>
<rect x="372.71" y="82.5" width="5" height="11.3" fill="#0a0ae0"/>
<line x1="381.99" y1="91.3" x2="381.99" y2="101.3" stroke="#0a0ae0" stroke-width="1.7"/>
<rect x="379.49" y="91.3" width="5" height="10" fill="#0a0ae0"/>
<line x1="388.77" y1="96.3" x2="388.77" y2="105" stroke="#0a0ae0" stroke-width="1.7"/>
<rect x="386.27" y="100" width="5" height="3.8" fill="#0a0ae0"/>
<line x1="395.55" y1="91.3" x2="395.55" y2="93.8" stroke="#e3204f" stroke-width="1.7"/>
<line x1="395.55" y1="98.8" x2="395.55" y2="101.3" stroke="#e3204f" stroke-width="1.7"/>
<rect x="393.9" y="94.65" width="3.3" height="3.3" fill="#ffdde8" stroke="#e3204f" stroke-width="1.7"/>
<line x1="402.32" y1="85" x2="402.32" y2="105" stroke="#0a0ae0" stroke-width="1.7"/>
<rect x="399.82" y="90" width="5" height="13.8" fill="#0a0ae0"/>
<line x1="409.1" y1="95" x2="409.1" y2="102.5" stroke="#107a10" stroke-width="1.7"/>
<line x1="406.6" y1="100.5" x2="411.6" y2="100.5" stroke="#107a10" stroke-width="1.8"/>
<line x1="415.88" y1="100" x2="415.88" y2="110" stroke="#0a0ae0" stroke-width="1.7"/>
<rect x="413.38" y="100" width="5" height="8.8" fill="#0a0ae0"/>
<line x1="422.66" y1="104" x2="422.66" y2="111.5" stroke="#0a0ae0" stroke-width="1.7"/>
<rect x="420.16" y="105" width="5" height="5" fill="#0a0ae0"/>
<line x1="429.44" y1="104" x2="429.44" y2="111.5" stroke="#0a0ae0" stroke-width="1.7"/>
<rect x="426.94" y="105" width="5" height="5" fill="#0a0ae0"/>
<line x1="436.21" y1="143.9" x2="436.21" y2="157" stroke="#e3204f" stroke-width="1.7"/>
<line x1="436.21" y1="162.7" x2="436.21" y2="171.4" stroke="#e3204f" stroke-width="1.7"/>
<rect x="434.56" y="157.85" width="3.3" height="4" fill="#ffdde8" stroke="#e3204f" stroke-width="1.7"/>
<line x1="442.99" y1="154" x2="442.99" y2="171.4" stroke="#0a0ae0" stroke-width="1.7"/>
<rect x="440.49" y="164" width="5" height="5" fill="#0a0ae0"/>
<line x1="449.77" y1="149" x2="449.77" y2="165" stroke="#0a0ae0" stroke-width="1.7"/>
<rect x="447.27" y="152.6" width="5" height="11.4" fill="#0a0ae0"/>
<line x1="456.55" y1="144" x2="456.55" y2="147" stroke="#e3204f" stroke-width="1.7"/>
<line x1="456.55" y1="164.4" x2="456.55" y2="165" stroke="#e3204f" stroke-width="1.7"/>
<rect x="454.9" y="147.85" width="3.3" height="15.7" fill="#ffdde8" stroke="#e3204f" stroke-width="1.7"/>
<line x1="463.33" y1="119.5" x2="463.33" y2="119.5" stroke="#e3204f" stroke-width="1.7"/>
<line x1="463.33" y1="149" x2="463.33" y2="157.6" stroke="#e3204f" stroke-width="1.7"/>
<rect x="461.68" y="120.35" width="3.3" height="27.8" fill="#ffdde8" stroke="#e3204f" stroke-width="1.7"/>
<line x1="470.1" y1="122.6" x2="470.1" y2="135" stroke="#107a10" stroke-width="1.7"/>
<line x1="467.6" y1="125" x2="472.6" y2="125" stroke="#107a10" stroke-width="1.8"/>
<line x1="476.88" y1="120" x2="476.88" y2="120" stroke="#e3204f" stroke-width="1.7"/>
<line x1="476.88" y1="123.8" x2="476.88" y2="130" stroke="#e3204f" stroke-width="1.7"/>
<rect x="474.38" y="120" width="5" height="3.8" fill="#e3204f"/>
<line x1="483.66" y1="108.8" x2="483.66" y2="136.3" stroke="#0a0ae0" stroke-width="1.7"/>
<rect x="481.16" y="113.8" width="5" height="16.2" fill="#0a0ae0"/>
<line x1="490.44" y1="125" x2="490.44" y2="144.5" stroke="#0a0ae0" stroke-width="1.7"/>
<rect x="487.94" y="127.6" width="5" height="16.3" fill="#0a0ae0"/>
<line x1="497.22" y1="128.8" x2="497.22" y2="128.8" stroke="#e3204f" stroke-width="1.7"/>
<line x1="497.22" y1="143.9" x2="497.22" y2="152.6" stroke="#e3204f" stroke-width="1.7"/>
<rect x="495.57" y="129.65" width="3.3" height="13.4" fill="#ffdde8" stroke="#e3204f" stroke-width="1.7"/>
<line x1="503.99" y1="123.8" x2="503.99" y2="123.8" stroke="#e3204f" stroke-width="1.7"/>
<line x1="503.99" y1="135" x2="503.99" y2="135" stroke="#e3204f" stroke-width="1.7"/>
<rect x="502.34" y="124.65" width="3.3" height="9.5" fill="#ffdde8" stroke="#e3204f" stroke-width="1.7"/>
<line x1="510.77" y1="118.8" x2="510.77" y2="131" stroke="#0a0ae0" stroke-width="1.7"/>
<rect x="508.27" y="122.6" width="5" height="7.4" fill="#0a0ae0"/>
<line x1="517.55" y1="130" x2="517.55" y2="142.6" stroke="#0a0ae0" stroke-width="1.7"/>
<rect x="515.05" y="130" width="5" height="10" fill="#0a0ae0"/>
<line x1="524.33" y1="141.4" x2="524.33" y2="164" stroke="#0a0ae0" stroke-width="1.7"/>
<rect x="521.83" y="141.4" width="5" height="13.6" fill="#0a0ae0"/>
<line x1="531.11" y1="142.6" x2="531.11" y2="142.6" stroke="#e3204f" stroke-width="1.7"/>
<line x1="531.11" y1="155" x2="531.11" y2="157.6" stroke="#e3204f" stroke-width="1.7"/>
<rect x="529.46" y="143.45" width="3.3" height="10.7" fill="#ffdde8" stroke="#e3204f" stroke-width="1.7"/>
<line x1="537.88" y1="141" x2="537.88" y2="149" stroke="#0a0ae0" stroke-width="1.7"/>
<rect x="535.38" y="142.6" width="5" height="5" fill="#0a0ae0"/>
<line x1="544.66" y1="166.4" x2="544.66" y2="182.7" stroke="#0a0ae0" stroke-width="1.7"/>
<rect x="542.16" y="166.4" width="5" height="16.3" fill="#0a0ae0"/>
<line x1="551.44" y1="181.5" x2="551.44" y2="197.7" stroke="#107a10" stroke-width="1.7"/>
<line x1="548.94" y1="183" x2="553.94" y2="183" stroke="#107a10" stroke-width="1.8"/>
<line x1="558.22" y1="182.7" x2="558.22" y2="196.5" stroke="#0a0ae0" stroke-width="1.7"/>
<rect x="555.72" y="182.7" width="5" height="3.8" fill="#0a0ae0"/>
<line x1="565" y1="186.5" x2="565" y2="200" stroke="#107a10" stroke-width="1.7"/>
<line x1="562.5" y1="189" x2="567.5" y2="189" stroke="#107a10" stroke-width="1.8"/>
<line x1="571.77" y1="182.7" x2="571.77" y2="182.7" stroke="#e3204f" stroke-width="1.7"/>
<line x1="571.77" y1="197.7" x2="571.77" y2="200" stroke="#e3204f" stroke-width="1.7"/>
<rect x="570.12" y="183.55" width="3.3" height="13.3" fill="#ffdde8" stroke="#e3204f" stroke-width="1.7"/>
<line x1="578.55" y1="164" x2="578.55" y2="187.5" stroke="#0a0ae0" stroke-width="1.7"/>
<rect x="576.05" y="171.4" width="5" height="15.1" fill="#0a0ae0"/>
<line x1="585.33" y1="159" x2="585.33" y2="166.4" stroke="#e3204f" stroke-width="1.7"/>
<line x1="585.33" y1="174" x2="585.33" y2="177.7" stroke="#e3204f" stroke-width="1.7"/>
<rect x="583.68" y="167.25" width="3.3" height="5.9" fill="#ffdde8" stroke="#e3204f" stroke-width="1.7"/>
<line x1="592.11" y1="157.6" x2="592.11" y2="157.6" stroke="#e3204f" stroke-width="1.7"/>
<line x1="592.11" y1="169" x2="592.11" y2="177.7" stroke="#e3204f" stroke-width="1.7"/>
<rect x="590.46" y="158.45" width="3.3" height="9.7" fill="#ffdde8" stroke="#e3204f" stroke-width="1.7"/>
<line x1="598.89" y1="147.6" x2="598.89" y2="162.7" stroke="#0a0ae0" stroke-width="1.7"/>
<rect x="596.39" y="152.6" width="5" height="10.1" fill="#0a0ae0"/>
<line x1="605.66" y1="135" x2="605.66" y2="171.4" stroke="#0a0ae0" stroke-width="1.7"/>
<rect x="603.16" y="146.4" width="5" height="18.8" fill="#0a0ae0"/>
<line x1="612.44" y1="151.4" x2="612.44" y2="177.5" stroke="#0a0ae0" stroke-width="1.7"/>
<rect x="609.94" y="151.4" width="5" height="25" fill="#0a0ae0"/>
<line x1="619.22" y1="159" x2="619.22" y2="164" stroke="#e3204f" stroke-width="1.7"/>
<line x1="619.22" y1="174" x2="619.22" y2="176.4" stroke="#e3204f" stroke-width="1.7"/>
<rect x="617.57" y="164.85" width="3.3" height="8.3" fill="#ffdde8" stroke="#e3204f" stroke-width="1.7"/>
<line x1="626" y1="152.6" x2="626" y2="152.6" stroke="#e3204f" stroke-width="1.7"/>
<line x1="626" y1="157.6" x2="626" y2="164" stroke="#e3204f" stroke-width="1.7"/>
<rect x="624.35" y="153.45" width="3.3" height="3.3" fill="#ffdde8" stroke="#e3204f" stroke-width="1.7"/>
<line x1="632.78" y1="157.6" x2="632.78" y2="176.4" stroke="#0a0ae0" stroke-width="1.7"/>
<rect x="630.28" y="164" width="5" height="10" fill="#0a0ae0"/>
<line x1="639.55" y1="167" x2="639.55" y2="177.7" stroke="#0a0ae0" stroke-width="1.7"/>
<rect x="637.05" y="167" width="5" height="10.7" fill="#0a0ae0"/>
<line x1="646.33" y1="176.4" x2="646.33" y2="186.5" stroke="#0a0ae0" stroke-width="1.7"/>
<rect x="643.83" y="176.4" width="5" height="6.3" fill="#0a0ae0"/>
<line x1="653.11" y1="178" x2="653.11" y2="180" stroke="#e3204f" stroke-width="1.7"/>
<line x1="653.11" y1="183" x2="653.11" y2="186.5" stroke="#e3204f" stroke-width="1.7"/>
<rect x="650.61" y="180" width="5" height="3" fill="#e3204f"/>
<line x1="659.89" y1="172.7" x2="659.89" y2="174.7" stroke="#e3204f" stroke-width="1.7"/>
<line x1="659.89" y1="178" x2="659.89" y2="187.7" stroke="#e3204f" stroke-width="1.7"/>
<rect x="657.39" y="174.7" width="5" height="3.3" fill="#e3204f"/>
<line x1="666.67" y1="177.7" x2="666.67" y2="191.5" stroke="#0a0ae0" stroke-width="1.7"/>
<rect x="664.17" y="177.7" width="5" height="11.3" fill="#0a0ae0"/>
<line x1="673.44" y1="185.7" x2="673.44" y2="185.7" stroke="#e3204f" stroke-width="1.7"/>
<line x1="673.44" y1="191.5" x2="673.44" y2="205" stroke="#e3204f" stroke-width="1.7"/>
<rect x="671.79" y="186.55" width="3.3" height="4.1" fill="#ffdde8" stroke="#e3204f" stroke-width="1.7"/>
<line x1="680.22" y1="177" x2="680.22" y2="191.5" stroke="#107a10" stroke-width="1.7"/>
<line x1="677.72" y1="186" x2="682.72" y2="186" stroke="#107a10" stroke-width="1.8"/>
<line x1="687" y1="157.6" x2="687" y2="157.6" stroke="#e3204f" stroke-width="1.7"/>
<line x1="687" y1="186" x2="687" y2="186" stroke="#e3204f" stroke-width="1.7"/>
<rect x="685.35" y="158.45" width="3.3" height="26.7" fill="#ffdde8" stroke="#e3204f" stroke-width="1.7"/>
<line x1="693.78" y1="148" x2="693.78" y2="148" stroke="#e3204f" stroke-width="1.7"/>
<line x1="693.78" y1="165" x2="693.78" y2="167.6" stroke="#e3204f" stroke-width="1.7"/>
<rect x="692.13" y="148.85" width="3.3" height="15.3" fill="#ffdde8" stroke="#e3204f" stroke-width="1.7"/>
<line x1="700.56" y1="158.8" x2="700.56" y2="186.4" stroke="#0a0ae0" stroke-width="1.7"/>
<rect x="698.06" y="170" width="5" height="9" fill="#0a0ae0"/>
<line x1="707.33" y1="182" x2="707.33" y2="206.4" stroke="#0a0ae0" stroke-width="1.7"/>
<rect x="704.83" y="182" width="5" height="24.4" fill="#0a0ae0"/>
<line x1="714.11" y1="223.8" x2="714.11" y2="243" stroke="#e3204f" stroke-width="1.7"/>
<line x1="714.11" y1="246.8" x2="714.11" y2="265" stroke="#e3204f" stroke-width="1.7"/>
<rect x="711.61" y="243" width="5" height="3.8" fill="#e3204f"/>
<line x1="720.89" y1="195" x2="720.89" y2="221.4" stroke="#0a0ae0" stroke-width="1.7"/>
<rect x="718.39" y="200" width="5" height="6.4" fill="#0a0ae0"/>
<line x1="727.67" y1="207.5" x2="727.67" y2="216.4" stroke="#e3204f" stroke-width="1.7"/>
<line x1="727.67" y1="230.4" x2="727.67" y2="231" stroke="#e3204f" stroke-width="1.7"/>
<rect x="726.02" y="217.25" width="3.3" height="12.3" fill="#ffdde8" stroke="#e3204f" stroke-width="1.7"/>
<line x1="734.45" y1="233" x2="734.45" y2="234.6" stroke="#e3204f" stroke-width="1.7"/>
<line x1="734.45" y1="253.9" x2="734.45" y2="265" stroke="#e3204f" stroke-width="1.7"/>
<rect x="732.8" y="235.45" width="3.3" height="17.6" fill="#ffdde8" stroke="#e3204f" stroke-width="1.7"/>
<line x1="741.22" y1="205" x2="741.22" y2="225" stroke="#0a0ae0" stroke-width="1.7"/>
<rect x="738.72" y="210" width="5" height="7.6" fill="#0a0ae0"/>
<line x1="748" y1="201.4" x2="748" y2="216.5" stroke="#0a0ae0" stroke-width="1.7"/>
<rect x="745.5" y="205" width="5" height="10" fill="#0a0ae0"/>
<line x1="754.78" y1="210.6" x2="754.78" y2="241.4" stroke="#0a0ae0" stroke-width="1.7"/>
<rect x="752.28" y="210.6" width="5" height="28.2" fill="#0a0ae0"/>
<line x1="761.56" y1="233.8" x2="761.56" y2="240" stroke="#e3204f" stroke-width="1.7"/>
<line x1="761.56" y1="252.6" x2="761.56" y2="254" stroke="#e3204f" stroke-width="1.7"/>
<rect x="759.91" y="240.85" width="3.3" height="10.9" fill="#ffdde8" stroke="#e3204f" stroke-width="1.7"/>
<line x1="768.34" y1="245" x2="768.34" y2="268" stroke="#0a0ae0" stroke-width="1.7"/>
<rect x="765.84" y="245" width="5" height="17.7" fill="#0a0ae0"/>
<line x1="775.11" y1="243" x2="775.11" y2="258" stroke="#107a10" stroke-width="1.7"/>
<line x1="772.61" y1="252.6" x2="777.61" y2="252.6" stroke="#107a10" stroke-width="1.8"/>
<line x1="781.89" y1="229.6" x2="781.89" y2="237.6" stroke="#e3204f" stroke-width="1.7"/>
<line x1="781.89" y1="243.9" x2="781.89" y2="248.9" stroke="#e3204f" stroke-width="1.7"/>
<rect x="780.24" y="238.45" width="3.3" height="4.6" fill="#ffdde8" stroke="#e3204f" stroke-width="1.7"/>
<line x1="788.67" y1="238" x2="788.67" y2="260" stroke="#0a0ae0" stroke-width="1.7"/>
<rect x="786.17" y="243" width="5" height="12" fill="#0a0ae0"/>
<line x1="795.45" y1="268" x2="795.45" y2="302" stroke="#0a0ae0" stroke-width="1.7"/>
<rect x="792.95" y="268" width="5" height="21" fill="#0a0ae0"/>
<line x1="802.23" y1="259" x2="802.23" y2="259" stroke="#e3204f" stroke-width="1.7"/>
<line x1="802.23" y1="268" x2="802.23" y2="273" stroke="#e3204f" stroke-width="1.7"/>
<rect x="800.58" y="259.85" width="3.3" height="7.3" fill="#ffdde8" stroke="#e3204f" stroke-width="1.7"/>
<line x1="809" y1="243" x2="809" y2="253" stroke="#107a10" stroke-width="1.7"/>
<line x1="806.5" y1="252.4" x2="811.5" y2="252.4" stroke="#107a10" stroke-width="1.8"/>
<line x1="815.78" y1="245" x2="815.78" y2="268" stroke="#0a0ae0" stroke-width="1.7"/>
<rect x="813.28" y="245" width="5" height="15" fill="#0a0ae0"/>
<line x1="822.56" y1="243" x2="822.56" y2="248.9" stroke="#e3204f" stroke-width="1.7"/>
<line x1="822.56" y1="257.6" x2="822.56" y2="261.4" stroke="#e3204f" stroke-width="1.7"/>
<rect x="820.91" y="249.75" width="3.3" height="7" fill="#ffdde8" stroke="#e3204f" stroke-width="1.7"/>
<line x1="829.34" y1="259" x2="829.34" y2="261.4" stroke="#e3204f" stroke-width="1.7"/>
<line x1="829.34" y1="286.5" x2="829.34" y2="294" stroke="#e3204f" stroke-width="1.7"/>
<rect x="827.69" y="262.25" width="3.3" height="23.4" fill="#ffdde8" stroke="#e3204f" stroke-width="1.7"/>
</g>
<path d="M835 262.5L843.2 257.4V267.8Z" fill="#ff0000" stroke="#000" stroke-width="1.4" stroke-linejoin="round"/>
<g id="axes" stroke="#161616" stroke-width="1.55" fill="none">
<line x1="1011.3" y1="0" x2="1011.3" y2="383.7"/>
<line x1="1.6" y1="382.7" x2="1012.3" y2="382.7"/>
<line x1="1005" y1="38.5" x2="1011.2" y2="38.5"/>
<line x1="1005" y1="91.1" x2="1011.2" y2="91.1"/>
<line x1="1005" y1="143.7" x2="1011.2" y2="143.7"/>
<line x1="1005" y1="196.3" x2="1011.2" y2="196.3"/>
<line x1="1005" y1="248.9" x2="1011.2" y2="248.9"/>
<line x1="1005" y1="301.5" x2="1011.2" y2="301.5"/>
</g>
<g id="ylabels" stroke="#1a1a1a" stroke-width="0.15">
<text transform="scale(1.17 1)" y="44" font-size="16" x="867.03 875.89 884.7">620</text>
<text transform="scale(1.17 1)" y="96.6" font-size="16" x="867.03 875.89 884.7">600</text>
<text transform="scale(1.17 1)" y="149.2" font-size="16" x="867.1 875.89 884.7">580</text>
<text transform="scale(1.17 1)" y="201.8" font-size="16" x="867.1 875.84 884.7">560</text>
<text transform="scale(1.17 1)" y="254.4" font-size="16" x="867.1 875.94 884.7">540</text>
<text transform="scale(1.17 1)" y="307" font-size="16" x="867.1 875.89 884.7">520</text>
</g>
<g id="xlabels" stroke="#1a1a1a" stroke-width="0.15">
<text transform="scale(1.17 1)" y="399.7" font-size="16" x="23.67 32.62 43.76 49.39 59.4">25/10</text>
<text transform="scale(1.17 1)" y="399.7" font-size="16" x="150.72 159.26">11</text>
<text transform="scale(1.17 1)" y="399.7" font-size="16" x="255.08 264.27">12</text>
<text transform="scale(1.17 1)" y="399.7" font-size="16" x="383.93 392.8 404.02 409.65">26/1</text>
<text transform="scale(1.17 1)" y="399.7" font-size="16" x="493.93">2</text>
<text transform="scale(1.17 1)" y="399.7" font-size="16" x="598.5">3</text>
<text transform="scale(1.17 1)" y="399.7" font-size="16" x="717.48 728.72 736.62 745.64">3/30</text>
</g>
<g id="legend">
<rect x="6" y="6.5" width="315" height="22.8" fill="#fff"/>
<text transform="scale(1.13 1)" y="25.4" font-size="16.9" x="8 16.89 25.8 34.68" stroke="#1a1a1a" stroke-width="0.2">3242</text>
<text x="57.8" y="26" font-size="18.6" stroke="#1a1a1a" stroke-width="0.25" textLength="261" lengthAdjust="spacing">アーバネットコーポレーション</text>
<rect x="8.5" y="34.5" width="64" height="20.5" fill="#fff"/>
<rect x="10" y="38.2" width="13.3" height="12.6" fill="#ee35cd"/>
<text x="26" y="50.5" font-size="17.5" stroke="#1a1a1a" stroke-width="0.2" textLength="46.8" lengthAdjust="spacing">（5）</text>
<rect x="8.5" y="60.5" width="73.5" height="20.5" fill="#fff"/>
<rect x="10" y="64.2" width="13.3" height="12.6" fill="#46dc78"/>
<text x="26" y="76.5" font-size="17.5" stroke="#1a1a1a" stroke-width="0.2" textLength="57" lengthAdjust="spacing">（25）</text>
<rect x="8.5" y="86.5" width="73.5" height="20.5" fill="#fff"/>
<rect x="10" y="90.2" width="13.3" height="12.6" fill="#2446de"/>
<text x="26" y="102.5" font-size="17.5" stroke="#1a1a1a" stroke-width="0.2" textLength="57" lengthAdjust="spacing">（75）</text>
</g>
<rect x="6.3" y="339.7" width="193.4" height="18.5" fill="#fbd206"/>
<text transform="scale(0.88 1)" y="355" font-size="17.4" x="12.24 21.33 36.68 47.73 54.66 68.06 79.51 91.33 103.19 114.88 127.38 138.67 150.51 162.75 175.14 182.13 193.92 206.16" fill="#111" stroke="#111" stroke-width="0.25">(C) KABUDRAGON.COM</text>
</svg></body></html>
